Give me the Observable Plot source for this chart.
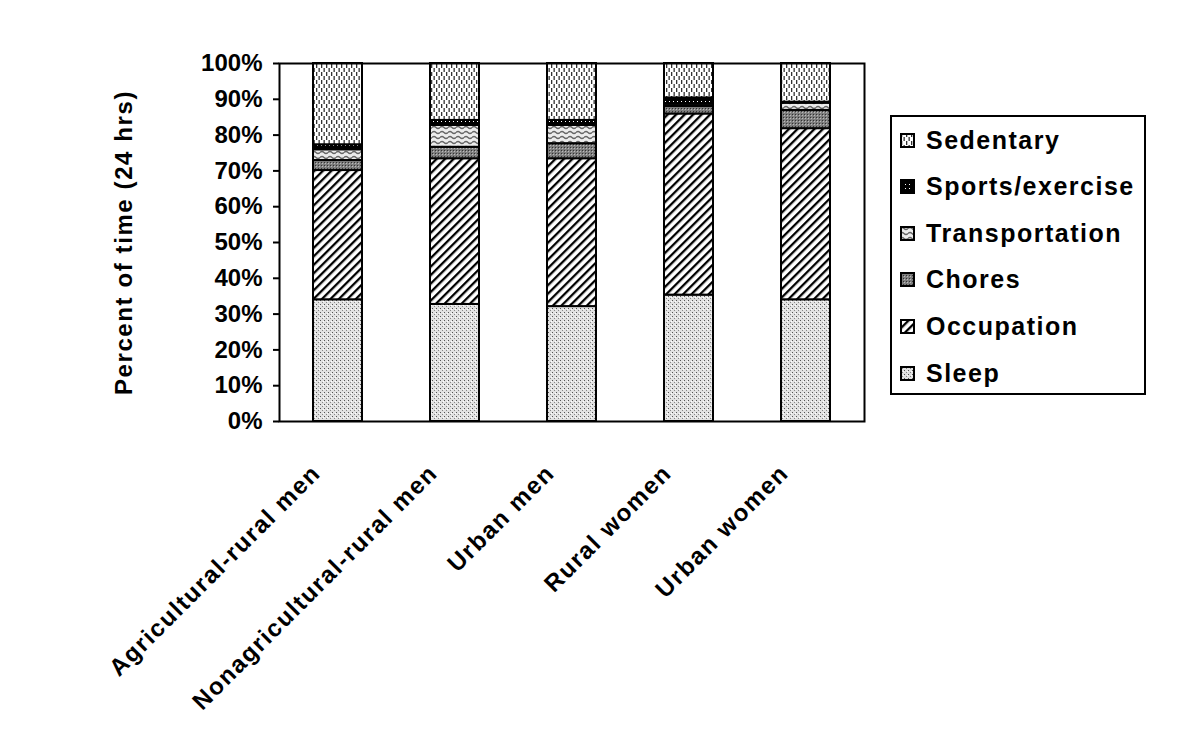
<!DOCTYPE html>
<html>
<head>
<meta charset="utf-8">
<script src="https://cdn.jsdelivr.net/npm/d3@7"></script>
<script src="https://cdn.jsdelivr.net/npm/@observablehq/plot@0.6"></script>
<style>
  html, body { margin: 0; padding: 0; background: white; }
  #wrap { position: relative; width: 1200px; height: 754px; font-family: "Liberation Sans", Arial, sans-serif; font-weight: bold; }
  #legend { position: absolute; left: 890px; top: 115px; width: 256px; height: 280px; border: 2px solid black; box-sizing: border-box; background: white; }
  .item { position: absolute; left: 8px; height: 30px; display: flex; align-items: center; font-size: 25px; letter-spacing: 1.5px; color: black; white-space: nowrap; }
  .item svg { margin-right: 11px; flex: none; }
</style>
</head>
<body>
<svg width="0" height="0" style="position:absolute">
  <defs>
    <pattern id="p-sleep" width="4" height="4" patternUnits="userSpaceOnUse">
      <rect width="4" height="4" fill="#e2e2e2"/>
      <rect x="0" y="0" width="1" height="1" fill="#555"/>
      <rect x="2" y="2" width="1" height="1" fill="#888"/>
      <rect x="3" y="1" width="1" height="1" fill="#fff"/>
    </pattern>
    <pattern id="p-occ" width="6" height="6" patternUnits="userSpaceOnUse" patternTransform="rotate(45)">
      <rect width="6" height="6" fill="white"/>
      <rect x="0" y="0" width="2.3" height="6" fill="black"/>
    </pattern>
    <pattern id="p-chores" width="3" height="3" patternUnits="userSpaceOnUse">
      <rect width="3" height="3" fill="#7e7e7e"/>
      <rect x="0" y="0" width="1" height="1" fill="#333"/>
      <rect x="1" y="1" width="1" height="1" fill="#bbb"/>
    </pattern>
    <pattern id="p-trans" width="8" height="5" patternUnits="userSpaceOnUse">
      <rect width="8" height="5" fill="#ececec"/>
      <path d="M0 2.5 Q2 0.5 4 2.5 T8 2.5" fill="none" stroke="#666" stroke-width="1.3"/>
    </pattern>
    <pattern id="p-sports" width="4" height="4" patternUnits="userSpaceOnUse">
      <rect width="4" height="4" fill="#000"/>
      <rect x="1" y="1" width="1" height="1" fill="#fff"/>
    </pattern>
    <pattern id="p-sed" width="5" height="8" patternUnits="userSpaceOnUse">
      <rect width="5" height="8" fill="white"/>
      <rect x="1" y="0" width="1.3" height="4" fill="#333"/>
      <rect x="3.5" y="4" width="1.3" height="4" fill="#333"/>
    </pattern>
  </defs>
</svg>
<div id="wrap">
  <div id="chart"></div>
  <div id="legend"></div>
</div>
<script>
// ---- data ----
const categories = ["Agricultural-rural men", "Nonagricultural-rural men", "Urban men", "Rural women", "Urban women"];
const activities = ["Sleep", "Occupation", "Chores", "Transportation", "Sports/exercise", "Sedentary"];
const sleep          = [34.0, 32.7, 32.1, 35.3, 34.0];
const occupation     = [36.1, 40.7, 41.3, 50.6, 47.8];
const chores         = [2.8, 3.2, 4.2, 2.1, 5.1];
const transportation = [3.0, 6.1, 5.1, 0.6, 2.0];
const sports         = [1.4, 1.4, 1.4, 1.8, 0.3];
const sedentary      = [22.7, 15.9, 15.9, 9.6, 10.8];
const yTicks = [0, 10, 20, 30, 40, 50, 60, 70, 80, 90, 100];
const yTitle = "Percent of time (24 hrs)";
const patternIds = ["p-sleep", "p-occ", "p-chores", "p-trans", "p-sports", "p-sed"];

const series = [sleep, occupation, chores, transportation, sports, sedentary];
const rows = [];
categories.forEach((c, i) => {
  activities.forEach((a, j) => rows.push({category: c, activity: a, value: series[j][i]}));
});

const chart = Plot.plot({
  width: 1200,
  height: 754,
  marginLeft: 279,
  marginRight: 336,
  marginTop: 63,
  marginBottom: 333,
  style: {fontFamily: '"Liberation Sans", Arial, sans-serif', fontWeight: "bold", fontSize: "24px", color: "black", background: "white"},
  x: {domain: categories, paddingInner: 0.58, paddingOuter: 0.29, axis: null},
  y: {domain: [0, 100], axis: null},
  color: {domain: activities, range: patternIds.map(id => `url(#${id})`)},
  marks: [
    Plot.barY(rows, {x: "category", y: "value", fill: "activity", stroke: "black", strokeWidth: 2}),
    Plot.frame({stroke: "black", strokeWidth: 2}),
    Plot.axisY(yTicks, {label: null, tickSize: 6, tickPadding: 11, tickFormat: d => d + "%", fontSize: 24, strokeWidth: 2}),
    Plot.text(categories, {x: d => d, frameAnchor: "bottom", rotate: -45, textAnchor: "end", lineAnchor: "bottom", dx: -16, dy: 53, fontSize: 24}),
    Plot.text([yTitle], {frameAnchor: "left", rotate: -90, textAnchor: "middle", dx: -148, lineAnchor: "bottom", fontSize: 24})
  ]
});
document.getElementById("chart").appendChild(chart);
d3.select(chart).selectAll('g[aria-label="text"] text').style("letter-spacing", "1.6px");

// legend
const legend = document.getElementById("legend");
const order = activities.slice().reverse();
order.forEach((a, k) => {
  const j = activities.indexOf(a);
  const div = document.createElement("div");
  div.className = "item";
  div.style.top = (25 - 2 - 15 + k * 46.6) + "px";
  div.innerHTML = `<svg width="15" height="15"><rect x="1" y="1" width="13" height="13" fill="url(#${patternIds[j]})" stroke="black" stroke-width="2"/></svg><span>${a}</span>`;
  legend.appendChild(div);
});
</script>
</body>
</html>
